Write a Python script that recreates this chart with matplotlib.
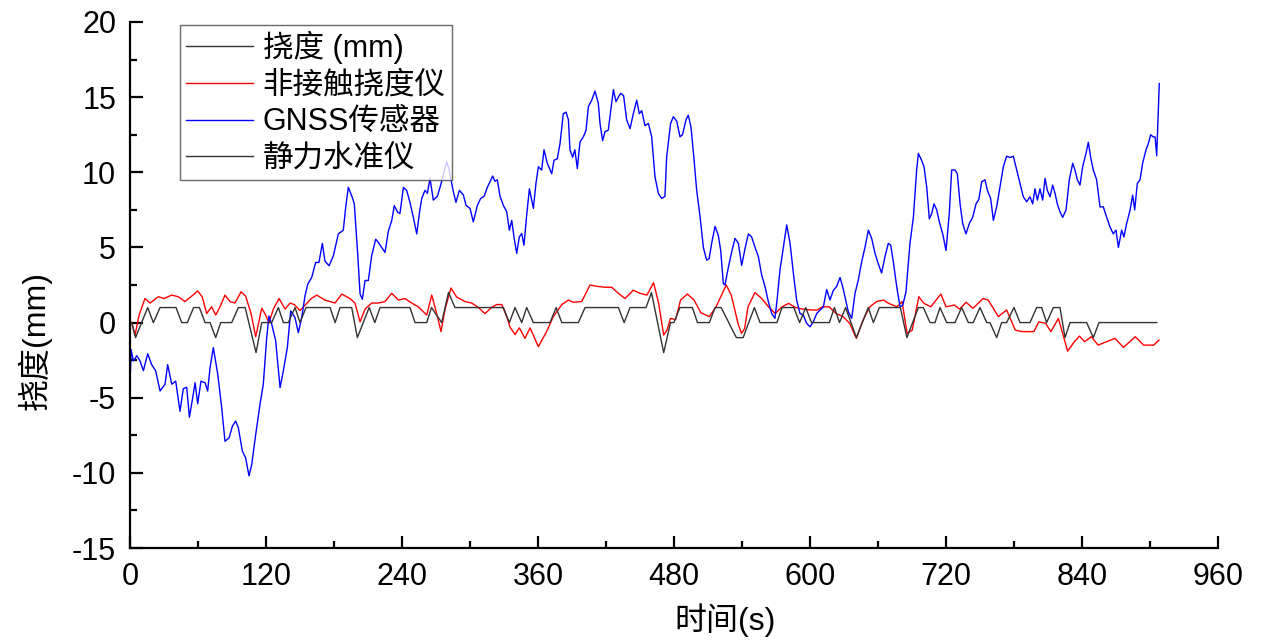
import matplotlib
matplotlib.use('Agg')
import matplotlib.pyplot as plt
from matplotlib.ticker import MultipleLocator

# static level (静力水准仪)
level_t = [1.5, 4.9, 15.6, 20.6, 26.5, 40.6, 45.6, 50.6, 56.1, 61.2, 66.2, 70.6, 75.6, 80, 89.7,
           95.6, 101.6, 111.2, 116.2, 125, 130.9, 135.3, 139.7, 145.6, 150, 155.3, 176.5, 181,
           185.3, 195.6, 200.6, 211, 216, 220.6, 247, 251.5, 261.8, 266, 275, 281, 286.8, 329.4,
           334.7, 339.7, 345.6, 350, 355.9, 370.6, 376, 381, 395.6, 401.5, 430.9, 436, 441.2,
           455.3, 460.1, 470.9, 476.9, 479.9, 485.2, 496.2, 500.7, 511.2, 516.2, 521.6, 535, 541,
           550.9, 555.9, 570.8, 575.3, 585.7, 590.8, 596.2, 601.3, 617.1, 621.5, 626, 631.4, 640.9,
           651.4, 655.9, 661.2, 679.7, 685.5, 695.6, 700, 705.9, 710.3, 714.7, 720.6, 727.9, 733.8,
           739.7, 744, 750, 755.9, 758.8, 764.7, 769.1, 773.5, 780, 785.3, 794.1, 800, 804.4, 808.8,
           814.7, 820.6, 825, 829.4, 844.1, 850, 855, 906]
level_y = [0, -1, 1, 0, 1, 1, 0, 0, 1, 1, 0, 0, -1, 0, 0,
           1, 1, -2, 0, 0, 1, 0, 0, 1, 0, 1, 1, 0,
           1, 1, -1, 1, 0, 1, 1, 0, 0, 1, 0, 2, 1, 1,
           0, 1, 0, 1, 0, 0, 1, 0, 0, 1, 1, 0, 1,
           1, 2, -2, 0, 0, 1, 1, 0, 0, 1, 1, -1, -1,
           1, 0, 0, 1, 1, 0, 1, 0, 0, 1, 0, 1, -1,
           1, 0, 1, 1, -1, 1, 1, 0, 0, 1, 0, 0, 1,
           0, 0, 1, 0, 0, -1, 0, 0, 1, 0, 0, 1, 1, 0,
           1, 1, -1, 0, 0, -1, 0, 0]

# non-contact deflectometer (非接触挠度仪)
red_t = [0, 1.5, 4.4, 8, 13.2, 17.6, 25, 30, 36.8, 42.6, 48.5, 54.4, 59.7, 63.8, 67.6, 72, 75.6,
         79.4, 83.8, 88.2, 92.6, 98, 102, 106.8, 110.9, 116.2, 119, 122.6, 126.5, 131.5, 136.8,
         141.2, 145, 150, 155, 160, 164.7, 172, 180.9, 186.8, 194, 198.5, 203, 207.4, 213.3, 219,
         225, 230.9, 236.8, 242.6, 248.5, 254.4, 261.8, 266.2, 270.6, 274.4, 278, 283.2, 288.2,
         295.6, 301.5, 307.4, 313.2, 319, 323.5, 328, 332.4, 335.3, 339.7, 343.5, 348.5, 353,
         360.3, 367.6, 373.5, 381, 386.8, 391, 398.5, 405.9, 413.2, 419, 425, 430.9, 436.8, 444,
         450, 456.1, 462, 466.4, 470.9, 473.8, 476.9, 481.4, 485.8, 491.8, 497.7, 503.7, 511.2,
         517.1, 526.1, 530.5, 536.5, 539.5, 542.3, 545.3, 551.4, 557.4, 563.4, 569.3, 575.3,
         581.2, 587.2, 593.2, 600.6, 606.6, 611.1, 617, 623, 629, 635, 640.9, 646.8, 652.8, 658.8,
         664.8, 669.3, 676.7, 681.2, 685.7, 690.2, 696, 700.5, 706.6, 715.5, 720, 727.4, 731.9,
         737.8, 743.8, 752.7, 757.2, 766.2, 773.5, 781.1, 787.1, 797.5, 801.9, 807.9, 812.5,
         819.2, 822.8, 827.3, 833.3, 837.8, 842.3, 848.2, 854.2, 861.7, 869.1, 876.6, 887, 894.4,
         903.3, 907.9]
red_y = [0, 0, -0.85, 0.5, 1.6, 1.3, 1.72, 1.6, 1.83, 1.72, 1.4, 1.76, 2.1, 1.7, 0.6, 1.05, 0.5,
         1.05, 1.83, 1.4, 1.3, 2.05, 1.76, 0.6, -0.94, 0.95, 0.6, 0.0, 0.9, 1.6, 0.9,
         1.3, 1.2, 0.8, 1.2, 1.6, 1.83, 1.5, 1.3, 1.9, 1.6, 1.3, 0.05, 0.9, 1.3, 1.3,
         1.4, 1.95, 1.5, 1.6, 1.3, 1.05, 0.5, 1.83, 0.6, -0.6, 0.9, 2.3, 1.7,
         1.4, 1.3, 1.0, 0.6, 1.0, 1.2, 1.2, 0.4, -0.3, -0.8, -0.35, -1.05, -0.35,
         -1.6, -0.6, 0.4, 1.2, 1.5, 1.35, 1.4, 2.5, 2.4, 2.35, 2.35, 1.95, 1.6, 2.15,
         1.95, 1.83, 2.65, 1.3, -0.83, -0.5, 0.28, 0.2, 1.5, 1.9, 1.5, 0.65, 0.4,
         1.05, 2.5, 1.83, -0.06, -0.72, -0.4, 1.05, 2.0, 1.6, 1.05, 0.6, 1.05,
         1.28, 1.0, 0.9, 0.84, 0.84, 1.05, 1.05, 0.6, 0.4, -0.05, -1.05, 0.17, 1.05, 1.4,
         1.5, 1.28, 1.05, 1.4, -0.72, -0.5, 1.72, 1.28, 1.05, 1.9, 1.05, 1.17, 0.9,
         1.35, 0.95, 1.6, 1.5, 0.4, 0.84, -0.5, -0.6, -0.6, 0.05, -0.05, -0.6,
         0.28, -0.7, -1.9, -1.27, -0.9, -1.27, -0.94, -1.5, -1.27, -1.05, -1.65, -0.94, -1.5,
         -1.5, -1.16]

# GNSS sensor (GNSS传感器)
gnss_t = [0, 0.3, 1.0, 2.9, 3.9, 6, 8.8, 11.8, 15.6, 19.1, 22.6, 26.5, 30.9, 33.2, 36.8, 40.3,
          44.1, 47, 50, 52.4, 55.3, 57.4, 59.7, 62.6, 66.2, 68.5, 70.6, 73.5, 77.4, 80.9, 83.8,
          87.4, 90.3, 93.2, 95.6, 99.1, 102, 105, 107.4, 110.9, 114.7, 117.6, 120.6, 122.6, 125,
          128.5, 132.4, 135.3, 138.8, 141.8, 145.6, 148.5, 151.5, 154.4, 156.8, 160.3, 163.8,
          166.7, 169.7, 172, 175.6, 179.4, 183.8, 188.2, 190.3, 192.6, 195.6, 197.9, 200.9, 203,
          205, 207.4, 210.3, 213.2, 216.8, 219.4, 222, 225, 228, 230.9, 233.2, 236.2, 238.2,
          241.2, 244.1, 247, 250, 253, 255.3, 257.4, 260.3, 262.4, 264.7, 267.6, 271.2, 274.1,
          277, 279.4, 281.5, 285.3, 287.6, 290.6, 294.1, 296.5, 300, 302.9, 306.5, 309.4, 312.4,
          315.3, 320, 322, 324.1, 326.5, 329.4, 332.4, 334.7, 336.8, 338.8, 341.2, 343.5, 345.6,
          347.6, 350, 352.4, 355.9, 358.2, 360.3, 363.2, 365.3, 368.2, 372.1, 374.1, 377, 379.4,
          382.3, 384.7, 386.8, 388.2, 390.6, 392.5, 394.7, 397, 400, 402.4, 404.4, 407.4, 410.3,
          413.2, 414.7, 417, 419.1, 422, 424, 426.5, 428.8, 430.9, 433, 435.5, 438.2, 441.2,
          444.1, 447.1, 449.4, 451.5, 454.4, 457.4, 460.3, 463.2, 466.2, 469.1, 472, 473.5, 477,
          479.4, 482.4, 485.3, 487.5, 490.6, 492.6, 495, 497.5, 500, 503, 505.9, 508.8, 511,
          513.2, 516.2, 519.1, 521.2, 523.5, 525, 528, 530.9, 533.8, 536.8, 539.7, 542.6, 545.6,
          548.5, 551.5, 554.4, 557.4, 560.3, 563.2, 566.2, 569.1, 571.2, 573.5, 576.5, 579.4,
          582.4, 585.3, 588.2, 591.2, 594.1, 597, 600, 602.9, 605.9, 608.8, 611.8, 614.7, 617.6,
          620.6, 623.5, 626.5, 628.8, 630.9, 633.8, 636.8, 639.7, 642.6, 645.6, 648.5, 651.5,
          654.4, 657.4, 660.3, 663.2, 666.2, 669.1, 671.2, 673.5, 676.5, 679.4, 681.8, 684.7,
          688.2, 691.2, 694.1, 695.6, 698.5, 700.6, 703, 705.3, 707.4, 709.4, 711.8, 714.1, 717.1,
          720, 722.9, 725, 728, 730, 732.4, 734.7, 737.6, 740.6, 743.5, 746.5, 749, 751.5, 754.4,
          756.5, 759.4, 761.8, 764.7, 767.6, 770.6, 773.5, 776.5, 779.4, 782.4, 785.3, 788.2,
          791.2, 794.1, 796.5, 798.5, 800.6, 802.9, 805.3, 807.4, 809.4, 811.8, 814.1, 816.2,
          818.2, 820.6, 822.9, 825.9, 828.8, 831.8, 833.8, 835.9, 838.2, 840.6, 843.5, 845.6,
          847.6, 850, 852.9, 855.9, 858.8, 861.8, 864.7, 867.6, 870, 872.1, 875, 877, 879.4,
          882.4, 884.7, 886.5, 888.8, 891.2, 893.5, 896.5, 898.5, 900.6, 902.9, 904.5, 905.9,
          908.2]
gnss_y = [2.3, -3.3, -1.8, -2.55, -2.45, -2.2, -2.55, -3.2, -2.07, -2.8, -3.2, -4.55, -4.1, -2.8,
          -4.1, -3.9, -5.9, -4.4, -4.3, -6.3, -5.0, -4.0, -5.4, -3.9, -4.0, -4.55, -3.0, -1.67,
          -3.44, -5.67, -7.9, -7.67, -6.9, -6.55, -7.0, -8.55, -9.0, -10.2, -9.44, -7.44, -5.44,
          -4.1, -1.0, 0.44, -0.1, -1.2, -4.33, -3.2, -1.67, 0.78, 0.33, -0.67, 0.33, 1.78, 2.55,
          3.0, 4.0, 4.0, 5.27, 4.1, 3.78, 4.44, 5.9, 6.15, 7.67, 9.0, 8.44, 7.9, 4.55, 1.9, 1.55,
          2.8, 2.8, 4.44, 5.55, 5.3, 5.0, 4.67, 6.1, 6.78, 7.78, 7.33, 7.26, 9.0, 8.8, 8.0, 7.0,
          5.9, 7.26, 8.26, 8.8, 8.6, 9.6, 8.15, 8.4, 9.15, 10.0, 10.7, 10.2, 8.7, 8.0, 8.8, 8.5,
          7.8, 7.6, 6.7, 7.8, 8.26, 8.4, 9.0, 9.75, 9.4, 9.5, 8.4, 7.8, 7.37, 6.15, 6.8, 5.7, 4.6,
          5.7, 5.93, 5.15, 7.15, 8.9, 7.6, 9.26, 10.37, 10.15, 11.5, 10.6, 9.9, 10.8, 10.9, 11.9,
          13.9, 14.0, 13.5, 11.5, 11.0, 11.5, 10.25, 12.0, 12.36, 12.8, 14.36, 14.8, 15.4, 14.6,
          13.25, 12.1, 12.7, 12.8, 14.0, 15.5, 14.7, 15.0, 15.25, 15.1, 13.5, 12.9, 13.9, 14.8,
          13.9, 14.1, 13.1, 13.25, 12.36, 9.7, 8.6, 8.26, 8.4, 11.0, 13.25, 13.7, 13.4, 12.36,
          12.5, 13.5, 13.8, 13.0, 11.0, 8.8, 7.05, 5.0, 4.15, 4.25, 5.27, 6.4, 5.8, 4.8, 2.6, 2.5,
          3.7, 4.7, 5.6, 5.27, 3.8, 4.9, 5.9, 5.7, 5.0, 4.4, 3.15, 2.4, 1.4, 0.6, 0.28, 1.7, 3.5,
          5.0, 6.5, 5.27, 3.3, 1.5, 0.6, 0.5, -0.05, -0.28, 0.05, 0.6, 0.83, 1.05, 2.2, 1.5, 2.15,
          2.4, 3.0, 2.4, 1.7, 0.72, 0.28, 1.94, 2.83, 4.05, 5.0, 6.15, 5.6, 4.6, 3.9, 3.3, 4.4,
          5.27, 5.15, 4.05, 2.4, 1.05, 1.15, 2.05, 5.27, 7.0, 10.15, 11.25, 10.8, 10.37, 9.0, 6.9,
          7.26, 7.9, 7.5, 6.7, 5.9, 4.8, 7.26, 10.15, 10.15, 9.9, 7.9, 6.6, 5.9, 6.6, 7.0, 7.9,
          8.2, 9.37, 9.5, 8.8, 8.26, 6.8, 7.7, 9.0, 10.37, 11.07, 10.98, 11.07, 10.15, 9.26, 8.37,
          8.04, 8.37, 7.9, 8.9, 8.15, 8.9, 8.15, 9.6, 8.8, 8.37, 9.15, 8.6, 7.9, 7.37, 7.0, 7.48,
          9.5, 10.6, 10.15, 9.5, 9.15, 10.37, 11.25, 12.0, 11.0, 10.15, 9.5, 7.7, 7.7, 7.0, 6.37,
          5.9, 6.15, 5.0, 6.15, 5.7, 6.6, 7.48, 8.48, 7.5, 9.26, 9.5, 10.6, 11.5, 11.9, 12.5,
          12.35, 12.35, 11.1, 15.9]

labels = ['挠度 (mm)', '非接触挠度仪', 'GNSS传感器', '静力水准仪']
xticks = [0, 120, 240, 360, 480, 600, 720, 840, 960]
yticks = [-15, -10, -5, 0, 5, 10, 15, 20]

fam = ['Liberation Sans', 'Noto Sans CJK SC']
plt.rcParams['font.family'] = fam
plt.rcParams['axes.unicode_minus'] = False

fig = plt.figure(figsize=(12.71, 6.43), dpi=100)
ax = fig.add_axes([0.1023, 0.1477, 0.8560, 0.8181])

ax.plot([], [], color='#333333', lw=1.0, label=labels[0])
ax.plot(red_t, red_y, color='#FF0000', lw=1.0, label=labels[1])
ax.plot(gnss_t, gnss_y, color='#0000FF', lw=1.0, label=labels[2])
ax.plot(level_t, level_y, color='#333333', lw=1.0, label=labels[3])

ax.set_xlim(0, 960)
ax.set_ylim(-15, 20)
ax.set_xticks(xticks)
ax.set_yticks(yticks)
ax.xaxis.set_minor_locator(MultipleLocator(60))
ax.yaxis.set_minor_locator(MultipleLocator(2.5))

for s in ['top', 'right']:
    ax.spines[s].set_visible(False)
for s in ['left', 'bottom']:
    ax.spines[s].set_linewidth(1.6)

ax.tick_params(which='major', direction='in', length=9, width=1.6, labelsize=22, pad=10)
ax.tick_params(which='minor', direction='in', length=5, width=1.6)

ax.set_xlabel('时间(s)', fontsize=23)
ax.set_ylabel('挠度(mm)', fontsize=23)
ax.xaxis.set_label_coords(0.547, -0.105)
ax.yaxis.set_label_coords(-0.072, 0.395)

leg = ax.legend(loc='upper left', bbox_to_anchor=(0.046, 0.995), borderaxespad=0,
                fontsize=22, frameon=True, fancybox=False, handlelength=2.2,
                handletextpad=0.3, labelspacing=0.22, borderpad=0.2)
leg.get_frame().set_edgecolor('#444444')
leg.get_frame().set_linewidth(1.0)

fig.savefig('out.png', dpi=100)
